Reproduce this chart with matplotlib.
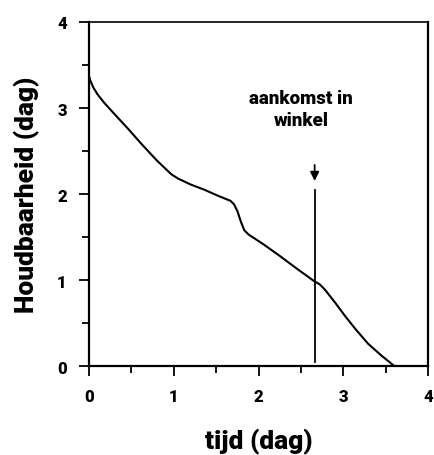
import numpy as np
import matplotlib
matplotlib.use("Agg")
import matplotlib.pyplot as plt

# houdbaarheid curve
tijd = [0.0, 0.02, 0.05, 0.1, 0.18, 0.3, 0.45, 0.63, 0.8, 0.97, 1.05, 1.2, 1.36, 1.52, 1.67, 1.71, 1.75, 1.79, 1.83, 1.88, 2.05, 2.25, 2.44, 2.65, 2.72, 2.78, 2.9, 3.02, 3.15, 3.29, 3.45, 3.60]
houdbaarheid = [3.37, 3.31, 3.24, 3.16, 3.06, 2.93, 2.77, 2.57, 2.39, 2.23, 2.18, 2.11, 2.05, 1.98, 1.92, 1.88, 1.80, 1.68, 1.58, 1.53, 1.42, 1.28, 1.14, 0.99, 0.95, 0.89, 0.74, 0.58, 0.42, 0.26, 0.12, 0.0]

# arrival in shop marker
aankomst_x = 2.66
aankomst_line = [0.05, 2.05]
aankomst_arrow = [2.37, 2.12]
aankomst_text = "aankomst in\nwinkel"

ticks = [0, 1, 2, 3, 4]
minor_ticks = [0.5, 1.5, 2.5, 3.5]

plt.rcParams["font.family"] = ["Roboto", "DejaVu Sans"]
plt.rcParams["font.weight"] = 900

fig = plt.figure(figsize=(4.35, 4.56), dpi=100)
ax = fig.add_axes([0.2046, 0.195, 0.78, 0.7546])

ax.plot(tijd, houdbaarheid, color="black", linewidth=1.5)
ax.plot([aankomst_x, aankomst_x], aankomst_line, color="black", linewidth=1.3)
ax.annotate("", xy=(aankomst_x, aankomst_arrow[1]), xytext=(aankomst_x, aankomst_arrow[0]),
            arrowprops=dict(arrowstyle="-|>", color="black", lw=1.3, mutation_scale=13))
ax.text(2.5, 2.99, aankomst_text, ha="center", va="center", fontsize=13.5,
        fontweight=900, linespacing=1.3)

ax.set_xlim(0, 4)
ax.set_ylim(0, 4)
ax.set_xticks(ticks)
ax.set_yticks(ticks)
ax.set_xticks(minor_ticks, minor=True)
ax.set_yticks(minor_ticks, minor=True)
ax.tick_params(which="both", direction="out", width=1.3, labelsize=12)
ax.tick_params(which="major", length=7)
ax.tick_params(which="minor", length=5)
ax.tick_params(axis="x", pad=9)
ax.tick_params(axis="y", pad=9)
for lbl in ax.get_xticklabels() + ax.get_yticklabels():
    lbl.set_fontweight(900)

for side in ["left", "bottom", "right"]:
    ax.spines[side].set_linewidth(1.6)
ax.spines["top"].set_linewidth(1.2)

ax.set_xlabel("tijd (dag)", fontsize=19, fontweight=900, labelpad=17)
ax.set_ylabel("Houdbaarheid (dag)", fontsize=19, fontweight=900, labelpad=12)

fig.savefig("out.png", dpi=100)
